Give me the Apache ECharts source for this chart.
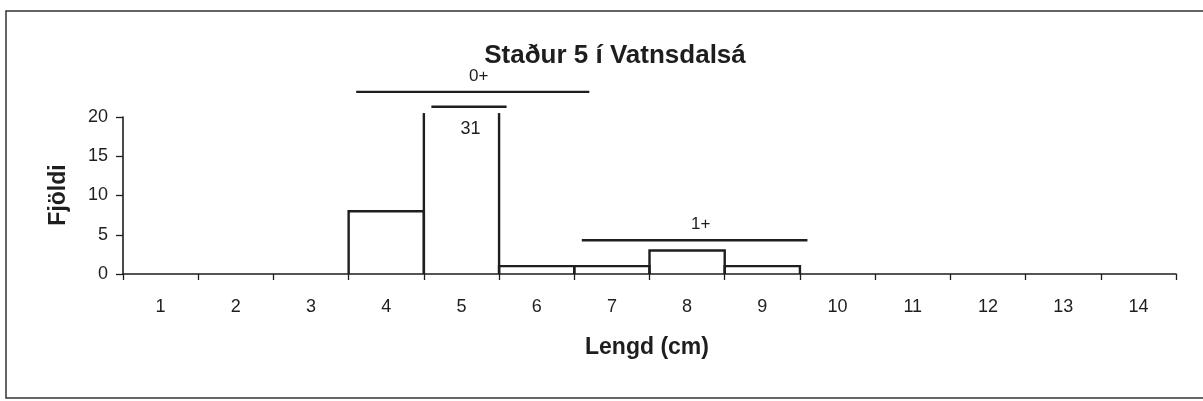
<!DOCTYPE html>
<html>
<head>
<meta charset="utf-8">
<script src="https://cdn.jsdelivr.net/npm/echarts@6/dist/echarts.min.js"></script>
<style>
html,body{margin:0;padding:0;background:#fff;}
#chart{width:1203px;height:401px;}
</style>
</head>
<body>
<div id="chart"></div>
<script>
// ---- data ----
const lengthLabels = ['1','2','3','4','5','6','7','8','9','10','11','12','13','14'];
const lengthValues = [1,2,3,4,5,6,7,8,9,10,11,12,13,14];
const counts = [0,0,0,8,31,1,1,3,1,0,0,0,0,0];
const yMin = 0, yMax = 20, yInterval = 5;
// age-group brackets (in length units and count units)
const groupLabels = ['0+','1+'];
const groupStart = [3.6, 6.6];
const groupEnd = [6.7, 9.6];
const groupLevel = [23.2, 4.3];

const titleText = 'Staður 5 í Vatnsdalsá';
const xName = 'Lengd (cm)';
const yName = 'Fjöldi';

const INK = '#1e1e1e';
const FONT = '"Liberation Sans", Arial, sans-serif';

const chart = echarts.init(document.getElementById('chart'), null, {renderer:'canvas'});

const barData = lengthValues.map((l, i) => [l, counts[i]]);
const groupData = groupLabels.map((g, i) => [groupStart[i], groupEnd[i], groupLevel[i], i]);

function renderBar(params, api) {
  const x = api.value(0), v = api.value(1);
  if (!(v > 0)) return null;
  const lineStyle = {stroke: INK, lineWidth: 2.4, fill: null};
  const bl = api.coord([x - 0.5, 0]);
  const br = api.coord([x + 0.5, 0]);
  if (v <= yMax) {
    const tl = api.coord([x - 0.5, v]);
    const tr = api.coord([x + 0.5, v]);
    return {type:'polyline', shape:{points:[bl, tl, tr, br]}, style: lineStyle};
  }
  // truncated bar: open top, break line above and value label inside
  const capTop = yMax + 0.5;
  const tl = api.coord([x - 0.5, capTop]);
  const tr = api.coord([x + 0.5, capTop]);
  const b1 = api.coord([x - 0.4, yMax + 1.3]);
  const b2 = api.coord([x + 0.6, yMax + 1.3]);
  const lp = api.coord([x + 0.12, yMax - 1.5]);
  return {type:'group', children:[
    {type:'polyline', shape:{points:[bl, tl]}, style: lineStyle},
    {type:'polyline', shape:{points:[br, tr]}, style: lineStyle},
    {type:'line', shape:{x1:b1[0], y1:b1[1], x2:b2[0], y2:b2[1]}, style:{stroke: INK, lineWidth: 2.4}},
    {type:'text', x: lp[0], y: lp[1], style:{text: String(v), fill: INK, font: '18px ' + FONT, align:'center', verticalAlign:'middle'}}
  ]};
}

function renderGroup(params, api) {
  const s = api.coord([api.value(0), api.value(2)]);
  const e = api.coord([api.value(1), api.value(2)]);
  const idx = api.value(3);
  return {type:'group', children:[
    {type:'line', shape:{x1:s[0], y1:s[1], x2:e[0], y2:e[1]}, style:{stroke: INK, lineWidth: 2.4}},
    {type:'text', x:(s[0]+e[0])/2 + 6, y: s[1] - 16, style:{text: groupLabels[idx], fill: INK, font:'17px ' + FONT, align:'center', verticalAlign:'middle'}}
  ]};
}

chart.setOption({
  backgroundColor:'#fff',
  animation:false,
  textStyle:{fontFamily: FONT},
  title:{
    text: titleText, left: 610, top: 38, textAlign:'center',
    textStyle:{fontSize:26, fontWeight:'bold', color: INK, fontFamily: FONT}
  },
  graphic:[
    {type:'polyline', shape:{points:[[1215,11],[6,11],[6,398],[1215,398]]}, style:{stroke:'#333', lineWidth:1.5, fill:null}, z:-1},
    {type:'text', x:647, y:348, style:{text:xName, font:'bold 23px ' + FONT, fill: INK, align:'center', verticalAlign:'middle'}},
    {type:'text', x:59, y:195, rotation:Math.PI/2, style:{text:yName, font:'bold 23px ' + FONT, fill: INK, align:'center', verticalAlign:'middle'}}
  ],
  grid:{left:123, right:27, top:117, bottom:127, containLabel:false},
  xAxis:[
    {type:'category', data: lengthLabels, boundaryGap:true,
     axisLine:{show:true, lineStyle:{color: INK, width:1.6}},
     axisTick:{show:true, alignWithLabel:false, length:6, lineStyle:{color: INK, width:1.3}},
     axisLabel:{color: INK, fontSize:18, margin:24, fontFamily: FONT},
     splitLine:{show:false}},
    {type:'value', show:false, min:0.5, max:14.5}
  ],
  yAxis:{type:'value', min:yMin, max:yMax, interval:yInterval,
    axisLine:{show:true, lineStyle:{color: INK, width:1.6}},
    axisTick:{show:true, length:7, lineStyle:{color: INK, width:1.3}},
    axisLabel:{color: INK, fontSize:18, margin:15, fontFamily: FONT},
    splitLine:{show:false}},
  series:[
    {type:'custom', name:'Fjöldi', xAxisIndex:1, yAxisIndex:0, clip:false,
     renderItem: renderBar, data: barData, encode:{x:0, y:1}},
    {type:'custom', name:'Aldurshópar', xAxisIndex:1, yAxisIndex:0, clip:false,
     renderItem: renderGroup, data: groupData, encode:{x:[0,1], y:2}}
  ]
});
</script>
</body>
</html>
